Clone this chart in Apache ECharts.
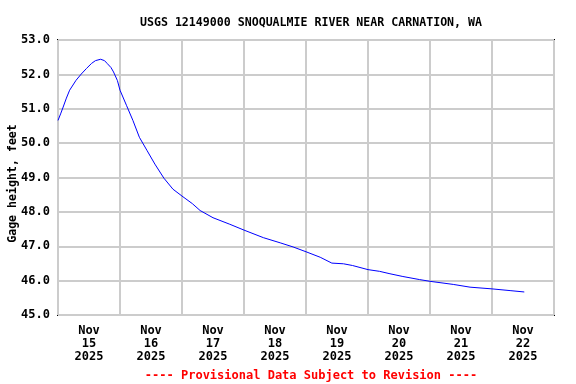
<!DOCTYPE html>
<html>
<head>
<meta charset="utf-8">
<script src="https://cdn.jsdelivr.net/npm/echarts@6/dist/echarts.min.js"></script>
<style>html,body{margin:0;padding:0;background:#fff;}#c{width:576px;height:384px;}</style>
</head>
<body>
<div id="c"></div>
<script>
var title = 'USGS 12149000 SNOQUALMIE RIVER NEAR CARNATION, WA';
var yAxisName = 'Gage height, feet';
var footer = '---- Provisional Data Subject to Revision ----';
var startTime = '2025-11-15T00:00';
var dayLabels = ['Nov\n15\n2025','Nov\n16\n2025','Nov\n17\n2025','Nov\n18\n2025','Nov\n19\n2025','Nov\n20\n2025','Nov\n21\n2025','Nov\n22\n2025'];
var times = [
 '2025-11-15T00:00','2025-11-15T01:00','2025-11-15T02:00','2025-11-15T03:15','2025-11-15T04:30','2025-11-15T07:00','2025-11-15T09:00','2025-11-15T11:00',
 '2025-11-15T13:00','2025-11-15T14:30','2025-11-15T16:30','2025-11-15T18:00','2025-11-15T19:00','2025-11-15T20:30','2025-11-15T21:30','2025-11-15T23:00','2025-11-16T00:00','2025-11-16T02:30',
 '2025-11-16T05:00','2025-11-16T07:30','2025-11-16T10:30','2025-11-16T13:30','2025-11-16T17:00','2025-11-16T20:30',
 '2025-11-17T00:00','2025-11-17T04:00','2025-11-17T07:00','2025-11-17T12:00','2025-11-17T18:30','2025-11-18T00:00',
 '2025-11-18T07:30','2025-11-18T14:00','2025-11-18T19:00','2025-11-19T00:00','2025-11-19T05:30','2025-11-19T10:00',
 '2025-11-19T14:30','2025-11-19T18:00','2025-11-20T00:00','2025-11-20T04:30','2025-11-20T08:30','2025-11-20T13:30',
 '2025-11-20T20:00','2025-11-21T00:00','2025-11-21T09:00','2025-11-21T15:30','2025-11-22T00:00','2025-11-22T07:00',
 '2025-11-22T12:30'
];
var gageHeight = [
 50.66,50.85,51.05,51.31,51.54,51.83,52.01,52.17,
 52.32,52.40,52.44,52.40,52.32,52.20,52.07,51.82,51.54,51.10,
 50.66,50.17,49.78,49.39,48.98,48.66,
 48.46,48.24,48.04,47.83,47.64,47.47,
 47.25,47.10,46.98,46.84,46.68,46.51,
 46.49,46.44,46.32,46.27,46.20,46.12,
 46.03,45.98,45.89,45.81,45.76,45.71,
 45.67
];

var t0 = new Date(startTime).getTime();
var seriesData = times.map(function (s, i) {
  return [(new Date(s).getTime() - t0) / 3600000, gageHeight[i]];
});

var font = 'DejaVu Sans Mono';
var chart = echarts.init(document.getElementById('c'), null, {renderer: 'canvas'});
chart.setOption({
  animation: false,
  backgroundColor: '#fff',
  title: [{
    text: title, left: 306, top: 12, textAlign: 'center',
    textStyle: {fontFamily: font, fontWeight: 'bold', fontSize: 11.6, color: '#000'}
  }, {
    text: footer, left: 306, top: 365, textAlign: 'center',
    textStyle: {fontFamily: font, fontWeight: 'bold', fontSize: 12, color: '#ff0000'}
  }],
  grid: {left: 58, right: 22, top: 40, bottom: 69, show: true, borderColor: '#000', borderWidth: 2,
    backgroundColor: 'transparent', containLabel: false, outerBoundsMode: 'none'},
  xAxis: [{
    type: 'value', min: 0, max: 192, interval: 24,
    axisLine: {show: false}, axisTick: {show: false}, axisLabel: {show: false},
    splitLine: {show: true, lineStyle: {color: '#cccccc', width: 2}}
  }, {
    type: 'value', min: 0, max: 192, interval: 12, position: 'bottom',
    axisLine: {show: false}, axisTick: {show: false}, splitLine: {show: false},
    axisLabel: {
      show: true, margin: 9, lineHeight: 13, color: '#000',
      fontFamily: font, fontWeight: 'bold', fontSize: 12,
      formatter: function (v) {
        if (v % 24 === 12) { return dayLabels[(v - 12) / 24] || ''; }
        return '';
      }
    }
  }],
  yAxis: {
    type: 'value', min: 45, max: 53, interval: 1,
    name: yAxisName, nameLocation: 'middle', nameGap: 39, nameRotate: 90, nameMoveOverlap: false,
    nameTextStyle: {fontFamily: font, fontWeight: 'bold', fontSize: 11.6, color: '#000', padding: [0, 12, 0, 0]},
    axisLine: {show: false}, axisTick: {show: false},
    axisLabel: {color: '#000', fontFamily: font, fontWeight: 'bold', fontSize: 12, margin: 8,
      formatter: function (v) { return v.toFixed(1); }},
    splitLine: {show: true, lineStyle: {color: '#cccccc', width: 2}}
  },
  series: [{
    type: 'line', xAxisIndex: 0, data: seriesData, smooth: false, showSymbol: false,
    lineStyle: {color: '#0000ff', width: 1}
  }]
});
</script>
</body>
</html>
